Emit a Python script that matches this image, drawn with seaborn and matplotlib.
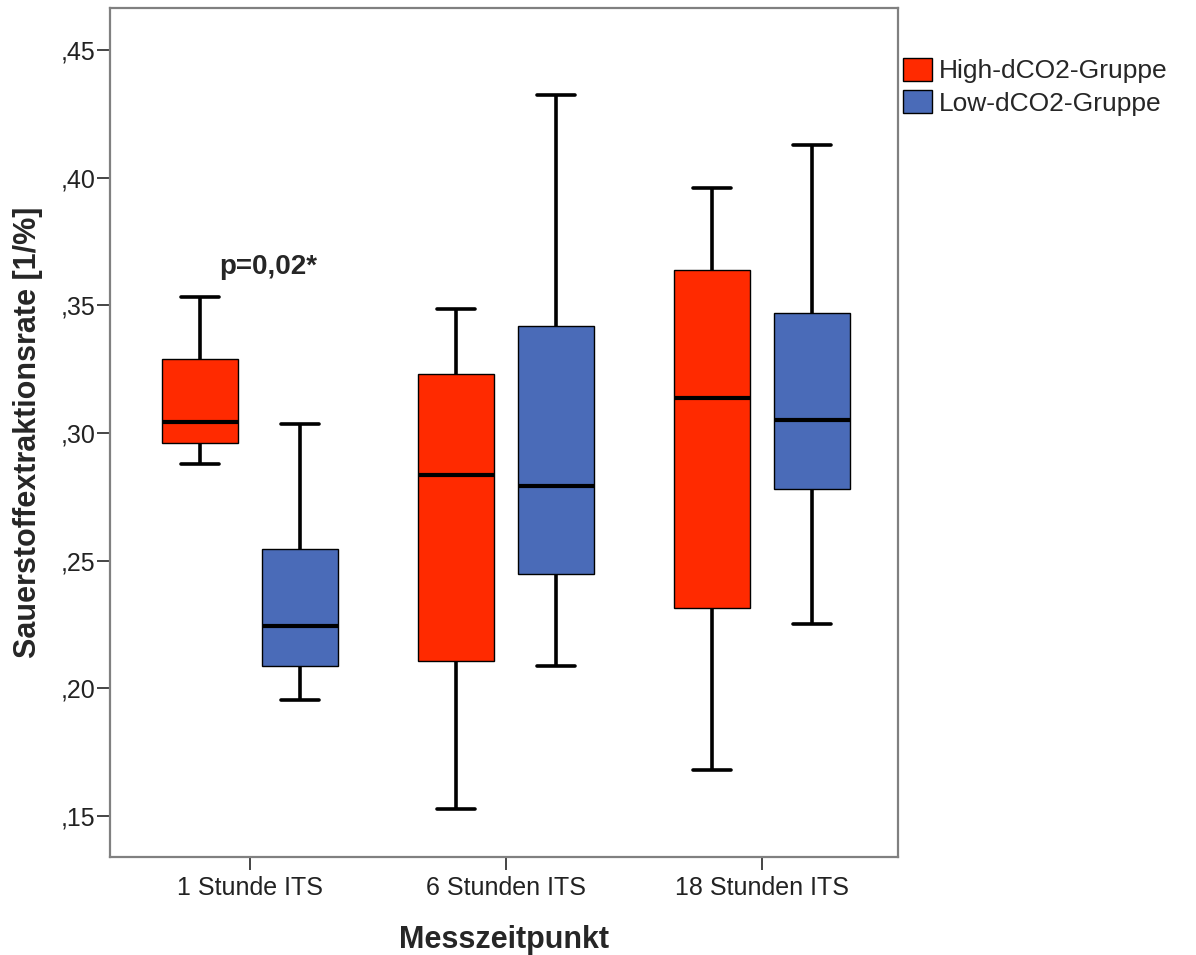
import numpy as np
import pandas as pd
import matplotlib
matplotlib.use("Agg")
import matplotlib.pyplot as plt
from matplotlib.patches import Patch
from matplotlib.ticker import FuncFormatter
import seaborn as sns

# ---------------------------------------------------------
# Data (whisker low, Q1, median, Q3, whisker high)
# ---------------------------------------------------------
timepoints = ["1 Stunde ITS", "6 Stunden ITS", "18 Stunden ITS"]
groups = ["High-dCO2-Gruppe", "Low-dCO2-Gruppe"]

high_1h = [0.288, 0.296, 0.3045, 0.329, 0.3535]
low_1h = [0.1955, 0.2087, 0.2245, 0.2546, 0.3035]
high_6h = [0.1527, 0.2107, 0.2836, 0.3233, 0.3487]
low_6h = [0.2087, 0.2448, 0.2792, 0.3420, 0.4325]
high_18h = [0.1680, 0.2317, 0.3137, 0.3640, 0.3960]
low_18h = [0.2252, 0.2781, 0.3051, 0.3470, 0.4130]

yticks = [0.15, 0.20, 0.25, 0.30, 0.35, 0.40, 0.45]
palette = {"High-dCO2-Gruppe": "#ff2a00", "Low-dCO2-Gruppe": "#4a6bb8"}

rows = []
for tp, hi, lo in zip(timepoints, [high_1h, high_6h, high_18h], [low_1h, low_6h, low_18h]):
    for v in hi:
        rows.append((tp, groups[0], v))
    for v in lo:
        rows.append((tp, groups[1], v))
df = pd.DataFrame(rows, columns=["Messzeitpunkt", "Gruppe", "Wert"])

# ---------------------------------------------------------
# Plot
# ---------------------------------------------------------
sns.set_style("white")
plt.rcParams["font.family"] = ["Liberation Sans", "DejaVu Sans"]

fig = plt.figure(figsize=(11.96, 9.55), dpi=100)
ax = fig.add_axes([110 / 1196, 1 - 857 / 955, 788 / 1196, 849 / 955])

sns.boxplot(
    data=df, x="Messzeitpunkt", y="Wert", hue="Gruppe",
    order=timepoints, hue_order=groups, palette=palette,
    saturation=1, width=0.78, gap=0.24, whis=(0, 100),
    linecolor="black", linewidth=1.0, fliersize=0,
    whiskerprops=dict(linewidth=2.6, color="black"),
    capprops=dict(linewidth=2.6, color="black"),
    medianprops=dict(linewidth=3.0, color="black"),
    legend=False, ax=ax,
)

ax.set_xlim(-0.547, 2.531)
ax.set_ylim(0.134, 0.4665)
ax.set_yticks(yticks)
ax.yaxis.set_major_formatter(
    FuncFormatter(lambda v, _: f"{v:.2f}".lstrip("0").replace(".", ","))
)

for s in ax.spines.values():
    s.set_color("#808080")
    s.set_linewidth(1.6)

ax.tick_params(axis="both", which="major", direction="out", length=9.5,
               width=1.4, color="#444444", labelsize=18, labelcolor="#222222",
               bottom=True, left=True)
ax.tick_params(axis="y", pad=1)
ax.tick_params(axis="x", pad=4)

ax.set_xlabel("Messzeitpunkt", fontsize=22, fontweight="bold")
ax.set_ylabel("Sauerstoffextraktionsrate [1/%]", fontsize=22, fontweight="bold")
ax.xaxis.set_label_coords(0.5, -0.080)
ax.yaxis.set_label_coords(-0.085, 0.5)

ax.text(0.07, 0.3625, "p=0,02*", fontsize=20, fontweight="bold",
        ha="center", va="baseline")

handles = [Patch(facecolor=palette[g], edgecolor="black", linewidth=1.0) for g in groups]
fig.legend(handles, groups, loc="upper left", bbox_to_anchor=(903 / 1196, 1 - 58 / 955),
           frameon=False, fontsize=19, handlelength=1.1, handleheight=0.95,
           handletextpad=0.25, labelspacing=0.25, borderpad=0, borderaxespad=0)

fig.savefig("out.png", dpi=100)
plt.close(fig)
